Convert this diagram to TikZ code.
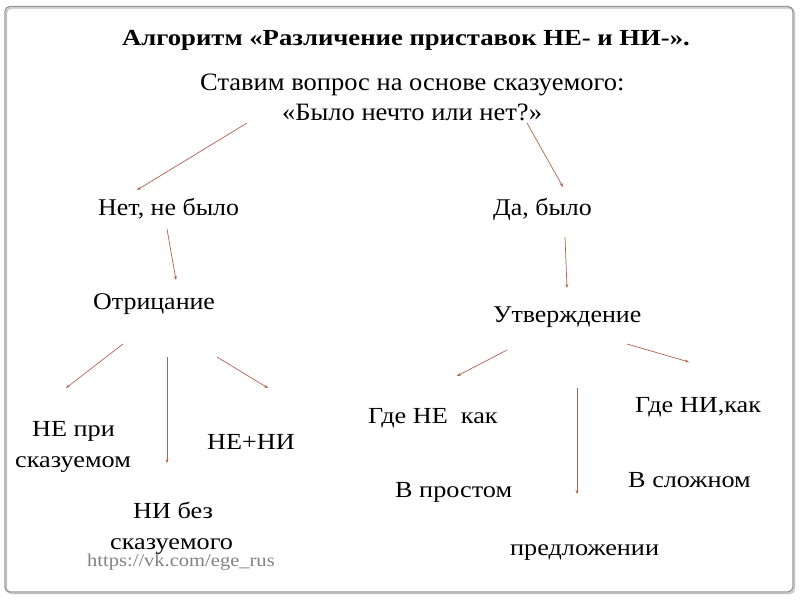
\documentclass[tikz,border=0pt]{standalone}
\usepackage{fontspec}
\setmainfont{Liberation Serif}
\newfontfamily\titlefont[FakeStretch=1.16]{Liberation Serif}
\newfontfamily\upfont[FakeStretch=1.08]{Liberation Serif}
\newfontfamily\qfont[FakeStretch=1.06]{Liberation Serif}
\newfontfamily\lowfont[FakeStretch=1.14]{Liberation Serif}
\usetikzlibrary{arrows.meta}
\definecolor{arrowc}{RGB}{176,98,78}
\definecolor{framec}{RGB}{150,150,150}
\definecolor{urlc}{RGB}{130,130,130}
\tikzset{
  lbl/.style={anchor=base west,inner sep=0pt,font=\upfont\fontsize{24}{28}\selectfont},
  lbllow/.style={anchor=base west,inner sep=0pt,font=\lowfont\fontsize{23}{27}\selectfont},
  arr/.style={draw=arrowc,line width=0.7pt,-{Stealth[length=4pt,width=3pt]}},
}
\begin{document}
\begin{tikzpicture}[x=1pt,y=-1pt]
\useasboundingbox (0,0) rectangle (800,600);
\fill[white] (0,0) rectangle (800,600);
\draw[framec!60,line width=1.2pt,rounded corners=5pt] (6.5,8) rectangle (794.5,593.5);
\draw[framec,line width=1.3pt,rounded corners=5pt] (5,6.5) rectangle (793,592);

\node[lbl,font=\titlefont\bfseries\fontsize{23}{27}\selectfont] (title) at (122,45) {Алгоритм «Различение приставок НЕ- и НИ-».};
\node[lbl,font=\qfont\fontsize{25}{29}\selectfont] (q1) at (200,90) {Ставим вопрос на основе сказуемого:};
\node[lbl,font=\qfont\fontsize{25}{29}\selectfont] (q2) at (282,120) {«Было нечто или нет?»};

\node[lbl] (no) at (98,215) {Нет, не было};
\node[lbl] (yes) at (493,215) {Да, было};
\node[lbl] (neg) at (93,309) {Отрицание};
\node[lbl] (aff) at (493,322) {Утверждение};

\node[lbllow] (ne1) at (32,436) {НЕ при};
\node[lbllow] (ne2) at (15,467) {сказуемом};
\node[lbllow] (neni) at (207,449) {НЕ+НИ};
\node[lbllow] (ni1) at (133,518) {НИ без};
\node[lbllow] (ni2) at (110,549) {сказуемого};
\node[anchor=base west,inner sep=0pt,font=\lowfont\fontsize{18}{21}\selectfont,text=urlc] (url) at (87,566) {https://vk.com/ege\_rus};

\node[lbllow] (gne) at (368,423) {Где НЕ\ \ как};
\node[lbllow] (gni) at (635,412) {Где НИ,как};
\node[lbllow] (simple) at (395,497) {В простом};
\node[lbllow] (complex) at (628,487) {В сложном};
\node[lbllow] (sent) at (510,555) {предложении};

\coordinate (a1s) at (247,123); \coordinate (a1e) at (137,190);
\coordinate (a2s) at (527,123); \coordinate (a2e) at (563,187);
\coordinate (a3s) at (167,229); \coordinate (a3e) at (176,280);
\coordinate (a4s) at (565,237); \coordinate (a4e) at (567,288);
\coordinate (a5s) at (123,344); \coordinate (a5e) at (66,388);
\coordinate (a6s) at (167,357); \coordinate (a6e) at (167,463);
\coordinate (a7s) at (217,357); \coordinate (a7e) at (268,388);
\coordinate (a8s) at (507,350); \coordinate (a8e) at (457,376);
\coordinate (a9s) at (577,388); \coordinate (a9e) at (577,494);
\coordinate (a10s) at (627,344); \coordinate (a10e) at (689,362);

\foreach \i in {1,...,10} \draw[arr] (a\i s) -- (a\i e);
\end{tikzpicture}
\end{document}
